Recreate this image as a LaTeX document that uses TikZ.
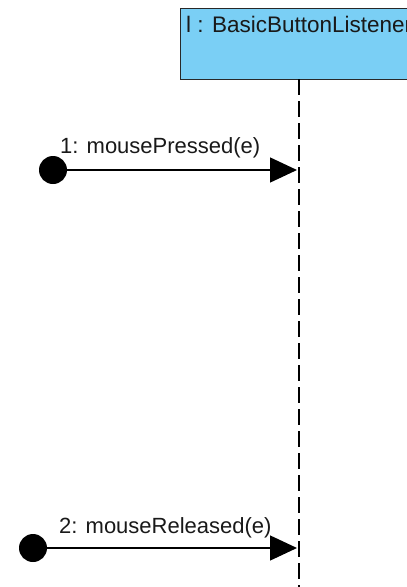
\documentclass[tikz,border=0pt]{standalone}
\usepackage{fontspec}
\setmainfont{Liberation Sans}
\usetikzlibrary{arrows.meta}
\definecolor{headfill}{RGB}{122,207,245}
\definecolor{headedge}{RGB}{40,40,40}
\definecolor{labeltext}{RGB}{25,25,25}
\tikzset{
  x=1pt, y=1pt,
  lifehead/.style={draw=headedge, line width=1.4pt, fill=headfill},
  lifeline/.style={line width=1.3pt, dash pattern=on 16pt off 6pt},
  foundmsg/.style={circle, fill=black, inner sep=0pt, minimum size=28pt},
  msgarrow/.style={line width=1.4pt, -{Triangle[length=27pt,width=25pt]}},
  msglabel/.style={font=\fontsize{22}{24}\selectfont, text=labeltext, inner sep=0pt, anchor=base west},
}
\begin{document}
\begin{tikzpicture}
  \useasboundingbox (0,0) rectangle (407,-587);
  \clip (0,0) rectangle (407,-587);

  % lifeline head
  \node[lifehead, anchor=north west, minimum width=240pt, minimum height=71pt, inner sep=0pt] (head) at (180,-8) {};
  \node[msglabel, font=\fontsize{22.5}{24}\selectfont] (headtext) at (186,-32) {l : BasicButtonListener};

  % lifeline
  \coordinate (lifetop) at (299,-79);
  \coordinate (lifeend) at (299,-590);
  \draw[lifeline] (lifetop) -- (lifeend);

  % message 1
  \node[foundmsg] (f1) at (53,-170) {};
  \coordinate (m1) at (297,-170);
  \draw[msgarrow] (f1.east) -- (m1);
  \node[msglabel] (l1) at (60,-153) {1: mousePressed(e)};

  % message 2
  \node[foundmsg] (f2) at (33,-548) {};
  \coordinate (m2) at (297,-548);
  \draw[msgarrow] (f2.east) -- (m2);
  \node[msglabel] (l2) at (59,-533) {2: mouseReleased(e)};
\end{tikzpicture}
\end{document}
